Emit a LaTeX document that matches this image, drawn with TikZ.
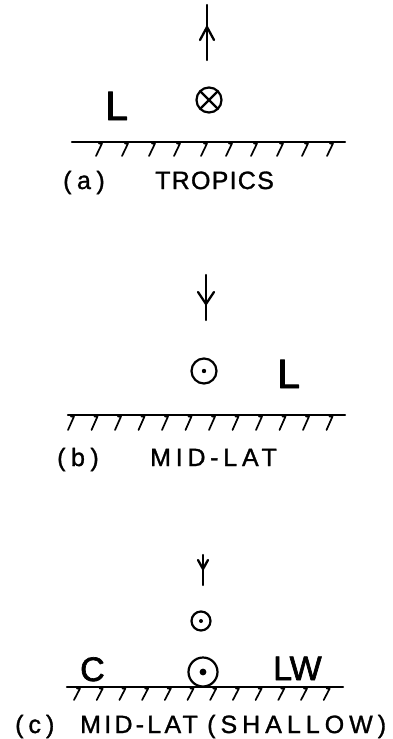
\documentclass[tikz,border=0pt]{standalone}
\usepackage{fontspec}
\setmainfont{Liberation Sans}[FakeBold=1.2]
\newcommand{\spc}[2]{{\addfontfeature{LetterSpace=#1}#2}}
\begin{document}
\begin{tikzpicture}[x=1pt,y=-1pt,line cap=round,line join=round,
  gl/.style={line width=2.3pt},
  ht/.style={line width=1.7pt},
  ring/.style={line width=2.2pt},
  arr/.style={line width=2.3pt},
  lab/.style={inner sep=0pt,anchor=base west,font=\fontsize{25}{25}\selectfont},
  big/.style={inner sep=0pt,anchor=base west,font=\fontsize{41}{41}\selectfont\addfontfeature{FakeBold=2}},
  mid/.style={inner sep=0pt,anchor=base west,font=\fontsize{34}{34}\selectfont\addfontfeature{FakeBold=2}}]
\useasboundingbox (0,0) rectangle (393,739);

% ---------- (a) TROPICS ----------
\draw[arr] (207,5) -- (207,60);
\draw[arr] (200,40) -- (207,27) -- (214,40);
\node[big] (La) at (105,120) {L};
\draw[ring] (209,100) circle (12.5);
\draw[ring] (209,100) ++(45:12.5) -- ++(225:25);
\draw[ring] (209,100) ++(135:12.5) -- ++(315:25);
\draw[gl] (72,142) -- (345,142);
\foreach \x in {102,128,155,180,207,232,257,283,308,333}
  \draw[ht] (\x-3,143.5) -- (\x,143.5) -- (\x-6,156);
\node[lab] (capa) at (63,189) {\spc{22}{(a)}};
\node[lab] (tropics) at (155,189) {\spc{5}{TROPICS}};

% ---------- (b) MID-LAT ----------
\draw[arr] (206,275) -- (206,320);
\draw[arr] (198,292) -- (206,304) -- (214,292);
\draw[ring] (204,371) circle (12.5);
\fill (204,371) circle (2.2);
\node[big] (Lb) at (277,388) {L};
\draw[gl] (68,415) -- (345,415);
\foreach \i in {0,...,11}
  \draw[ht] (74+23.5*\i-3,416.5) -- (74+23.5*\i,416.5) -- (74+23.5*\i-6,430);
\node[lab] (capb) at (57,466) {\spc{22}{(b)}};
\node[lab] (midb) at (150,466) {\spc{19}{MID-LAT}};

% ---------- (c) MID-LAT (SHALLOW) ----------
\draw[arr] (203,555) -- (203,585);
\draw[arr] (198,560) -- (203,569) -- (208,560);
\draw[ring] (201,621) circle (9.5);
\fill (201,621) circle (2);
\draw[ring] (203,672) circle (14.5);
\fill (203,672) circle (3.4);
\node[mid] (Cc) at (80,681) {C};
\node[mid] (LWc) at (273,680) {LW};
\draw[gl] (67,687) -- (343,687);
\foreach \i in {0,...,11}
  \draw[ht] (80+22.7*\i-3,688.5) -- (80+22.7*\i,688.5) -- (80+22.7*\i-6,700);
\node[lab] (capc) at (15,733) {\spc{20}{(c)}};
\node[lab] (midc) at (80,733) {\spc{13}{MID-LAT}};
\node[lab] (shal) at (207,733) {\spc{20}{(SHALLOW)}};
\end{tikzpicture}
\end{document}
